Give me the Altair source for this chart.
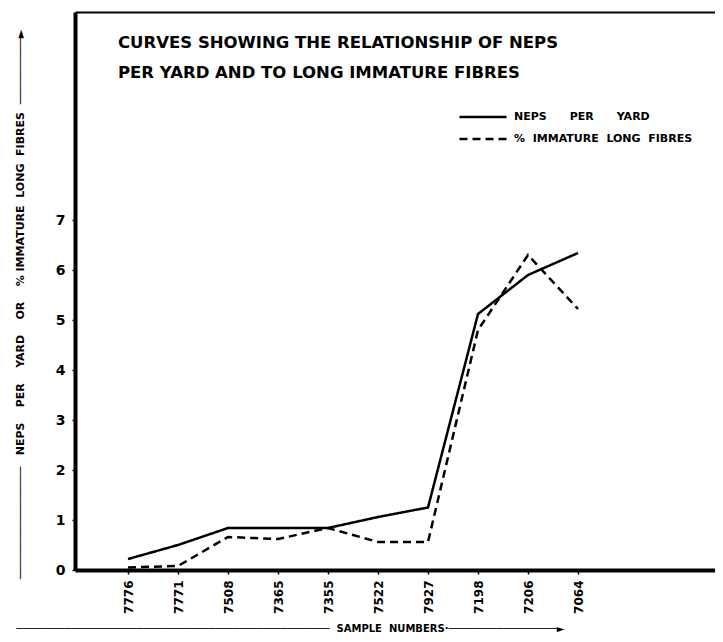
import altair as alt
import pandas as pd
import json

samples = ["7776", "7771", "7508", "7365", "7355", "7522", "7927", "7198", "7206", "7064"]
neps_per_yard = [0.22, 0.50, 0.84, 0.84, 0.84, 1.06, 1.25, 5.12, 5.90, 6.34]
immature_long = [0.05, 0.08, 0.66, 0.62, 0.84, 0.56, 0.56, 4.80, 6.30, 5.22]
series_names = ["NEPS PER YARD", "% IMMATURE LONG FIBRES"]
y_ticks = [0, 1, 2, 3, 4, 5, 6, 7]
title_lines = ["CURVES SHOWING THE RELATIONSHIP OF NEPS",
               "PER YARD AND TO LONG IMMATURE FIBRES"]

idx = list(range(len(samples)))
df = pd.DataFrame({
    "sample": samples * 2,
    "pos": idx * 2,
    "value": neps_per_yard + immature_long,
    "series": [series_names[0]] * len(samples) + [series_names[1]] * len(samples),
})

FONT = "DejaVu Sans"
NB = "\u00a0"
xscale = alt.Scale(domain=[-1.06, 11.74], nice=False, zero=False)
yscale = alt.Scale(domain=[0, 11.16], nice=False, zero=True)
label_expr = json.dumps(samples) + "[datum.value]"

ytitle = ("─" * 17 + NB * 3 + (NB * 4).join(["NEPS", "PER", "YARD", "OR", "%"]) + NB
          + (NB * 2).join(["IMMATURE", "LONG", "FIBRES"]) + NB * 2 + "─" * 10 + "►")
xtitle = ("─" * 52 + NB * 2 + "SAMPLE" + NB * 2 + "NUMBERS·" + "─" * 18 + "►")

legend_expr = ("datum.value == 'NEPS PER YARD' ? join(split(datum.label, ' '), '"
               + NB * 6 + "') : join(split(datum.label, ' '), '" + NB * 2 + "')")

lines = alt.Chart(df).mark_line(color="black", strokeWidth=2.5, clip=False).encode(
    x=alt.X("pos:Q", scale=xscale,
            axis=alt.Axis(values=idx, labelExpr=label_expr,
                          labelAngle=270, labelFont=FONT, labelFontSize=12,
                          labelFontWeight="bold", labelColor="black", labelPadding=6,
                          labelAlign="right", labelBaseline="middle",
                          domainColor="black", domainWidth=4, tickColor="black",
                          tickSize=4, tickWidth=1.5, grid=False,
                          title=xtitle, titleFont=FONT, titleFontSize=10,
                          titleFontWeight="bold", titleColor="black",
                          titleX=215, titleY=58, titleAlign="center",
                          titleBaseline="middle", titleAngle=0, titleLimit=700)),
    y=alt.Y("value:Q", scale=yscale,
            axis=alt.Axis(values=y_ticks, labelFont=FONT, labelFontSize=14,
                          labelFontWeight="bold", labelColor="black", labelPadding=7,
                          domainColor="black", domainWidth=4, tickColor="black",
                          tickSize=3, tickWidth=1.5, grid=False,
                          title=ytitle, titleFont=FONT, titleFontSize=11,
                          titleFontWeight="bold", titleColor="black",
                          titleAngle=270, titleX=-55, titleY=292,
                          titleAlign="center", titleBaseline="middle", titleLimit=700)),
    strokeDash=alt.StrokeDash("series:N",
                              scale=alt.Scale(domain=series_names, range=[[1, 0], [8, 5]]),
                              legend=alt.Legend(orient="none", legendX=383, legendY=98,
                                                title=None, symbolType="stroke",
                                                symbolSize=2209, symbolStrokeWidth=2.5,
                                                symbolStrokeColor="black",
                                                labelFont=FONT, labelFontSize=11,
                                                labelFontWeight="bold", labelColor="black",
                                                labelExpr=legend_expr,
                                                labelLimit=400, clipHeight=14,
                                                labelOffset=6, rowPadding=8)),
    order="pos:Q",
)

topframe = alt.Chart(df).mark_line(opacity=0).encode(
    x=alt.X("pos:Q", scale=xscale,
            axis=alt.Axis(orient="top", labels=False, ticks=False, domainWidth=2,
                          domainColor="black", title=None, grid=False)),
    y=alt.Y("value:Q", scale=yscale, axis=None),
    detail="series:N",
)

title = alt.Chart(pd.DataFrame({"k": [0]})).mark_text(
    align="left", baseline="middle", font=FONT, fontSize=16.5, fontWeight="bold",
    lineHeight=30, color="black",
).encode(x=alt.value(43), y=alt.value(31), text=alt.value(title_lines))

chart = alt.layer(lines, topframe, title).resolve_axis(
    x="independent", y="independent"
).properties(
    width=640, height=558,
    autosize=alt.AutoSizeParams(type="none"),
    padding={"left": 67, "top": 4, "right": 0, "bottom": 64},
).configure_view(stroke=None)

chart.save("out.html", embed_options={"renderer": "svg", "actions": False})
